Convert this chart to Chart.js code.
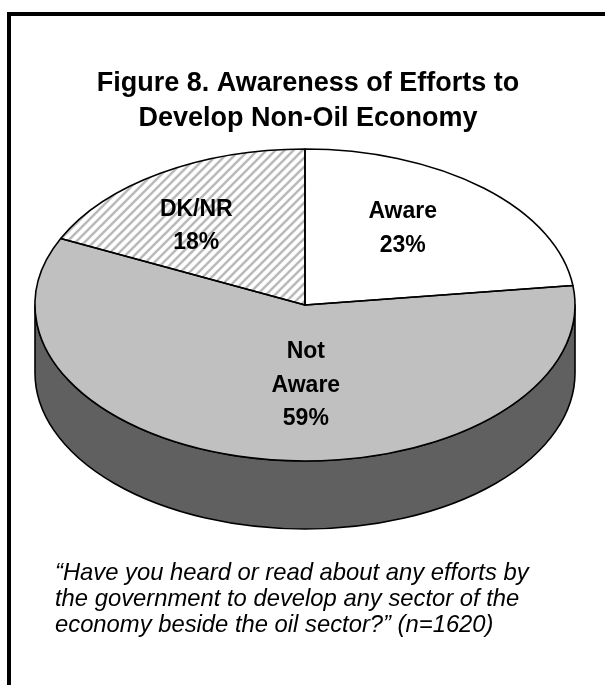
<!DOCTYPE html>
<html>
<head>
<meta charset="utf-8">
<script src="https://cdn.jsdelivr.net/npm/chart.js@4.4.1/dist/chart.umd.min.js"></script>
<style>
  html, body { margin: 0; padding: 0; background: #fff; }
  #wrap { width: 605px; height: 685px; position: relative; }
  canvas { display: block; }
</style>
</head>
<body>
<div id="wrap"><canvas id="c" width="605" height="685"></canvas></div>
<script>
// ---- data ----
const categories = ['Aware', 'Not Aware', 'DK/NR'];
const percentages = [23, 59, 18];
const titleLines = ['Figure 8. Awareness of Efforts to', 'Develop Non-Oil Economy'];
const captionLines = [
  '\u201CHave you heard or read about any efforts by',
  'the government to develop any sector of the',
  'economy beside the oil sector?\u201D (n=1620)'
];

// ---- styles ----
const TILT = 156 / 270;      // vertical squash of the pie
const DEPTH = 68;            // thickness of the 3D side
const FONT = '"Liberation Sans", Arial, sans-serif';

function hatchPattern() {
  const c = document.createElement('canvas');
  c.width = 9; c.height = 9;
  const g = c.getContext('2d');
  g.fillStyle = '#ffffff';
  g.fillRect(0, 0, 9, 9);
  g.strokeStyle = '#b8b8b8';
  g.lineWidth = 2.4;
  g.beginPath();
  for (let k = -9; k <= 18; k += 9) {
    g.moveTo(k - 9, 18); g.lineTo(k + 18, -9);
  }
  g.stroke();
  const ctx = document.getElementById('c').getContext('2d');
  const p = ctx.createPattern(c, 'repeat');
  p.setTransform(new DOMMatrix([1, 0, 0, 1 / TILT, 0, 0]));
  return p;
}

const faceColors = ['#ffffff', '#c0c0c0', hatchPattern()];
const sideColors = ['#9a9a9a', '#606060', '#8a8a8a'];
const labelNudge = [[-13, -4], [27, -15], [-19, 3]];

function arcs(chart) {
  return chart.getDatasetMeta(0).data.map(a =>
    a.getProps(['x', 'y', 'startAngle', 'endAngle', 'outerRadius'], true));
}

const pie3d = {
  id: 'pie3d',
  beforeDraw(chart) {
    const ctx = chart.ctx;
    ctx.save();
    ctx.fillStyle = '#ffffff';
    ctx.fillRect(0, 0, chart.width, chart.height);
    // frame
    ctx.fillStyle = '#000000';
    ctx.fillRect(7, 12, 598, 4);
    ctx.fillRect(7, 12, 4, 673);
    // title
    ctx.font = 'bold 27px ' + FONT;
    ctx.textAlign = 'center';
    ctx.textBaseline = 'middle';
    titleLines.forEach((t, i) => ctx.fillText(t, 308, 84 + i * 35));
    // caption
    ctx.font = 'italic 23.8px ' + FONT;
    ctx.textAlign = 'left';
    captionLines.forEach((t, i) => ctx.fillText(t, 55, 573 + i * 26));
    ctx.restore();
  },
  beforeDatasetsDraw(chart) {
    const ctx = chart.ctx;
    const list = arcs(chart);
    // side walls (visible lower half only)
    list.forEach((a, i) => {
      const rx = a.outerRadius, ry = rx * TILT;
      let s = a.startAngle, e = a.endAngle;
      const lo = Math.max(s, 0), hi = Math.min(e, Math.PI);
      if (hi <= lo) return;
      ctx.save();
      ctx.beginPath();
      ctx.ellipse(a.x, a.y, rx, ry, 0, lo, hi);
      ctx.lineTo(a.x + rx * Math.cos(hi), a.y + ry * Math.sin(hi) + DEPTH);
      ctx.ellipse(a.x, a.y + DEPTH, rx, ry, 0, hi, lo, true);
      ctx.closePath();
      ctx.fillStyle = sideColors[i];
      ctx.fill();
      ctx.lineWidth = 1.6;
      ctx.strokeStyle = '#000';
      ctx.lineJoin = 'round';
      ctx.stroke();
      ctx.restore();
    });
    const a0 = list[0];
    ctx.save();
    ctx.translate(a0.x, a0.y);
    ctx.scale(1, TILT);
    ctx.translate(-a0.x, -a0.y);
  },
  afterDatasetsDraw(chart) {
    const ctx = chart.ctx;
    ctx.restore();
    const list = arcs(chart);
    // outlines
    ctx.save();
    ctx.lineWidth = 1.6;
    ctx.strokeStyle = '#000';
    ctx.lineJoin = 'round';
    list.forEach(a => {
      const rx = a.outerRadius, ry = rx * TILT;
      ctx.beginPath();
      ctx.moveTo(a.x, a.y);
      ctx.ellipse(a.x, a.y, rx, ry, 0, a.startAngle, a.endAngle);
      ctx.closePath();
      ctx.stroke();
    });
    // labels
    ctx.fillStyle = '#000';
    ctx.font = 'bold 23px ' + FONT;
    ctx.textAlign = 'center';
    ctx.textBaseline = 'middle';
    const values = chart.data.datasets[0].data;
    list.forEach((a, i) => {
      const rx = a.outerRadius, ry = rx * TILT;
      const mid = (a.startAngle + a.endAngle) / 2;
      const x = a.x + rx * 0.62 * Math.cos(mid) + labelNudge[i][0];
      const y = a.y + ry * 0.62 * Math.sin(mid) + labelNudge[i][1];
      const lines = chart.data.labels[i].split(' ').concat([values[i] + '%']);
      const lh = 33.5;
      const y0 = y - (lines.length - 1) * lh / 2;
      lines.forEach((t, k) => ctx.fillText(t, x, y0 + k * lh));
    });
    ctx.restore();
  }
};

new Chart(document.getElementById('c'), {
  type: 'pie',
  data: {
    labels: categories,
    datasets: [{
      data: percentages,
      backgroundColor: faceColors,
      borderWidth: 0
    }]
  },
  options: {
    responsive: false,
    animation: false,
    events: [],
    layout: { padding: { left: 35, right: 30, top: 35, bottom: 110 } },
    plugins: { legend: { display: false }, tooltip: { enabled: false }, title: { display: false } }
  },
  plugins: [pie3d]
});
</script>
</body>
</html>
